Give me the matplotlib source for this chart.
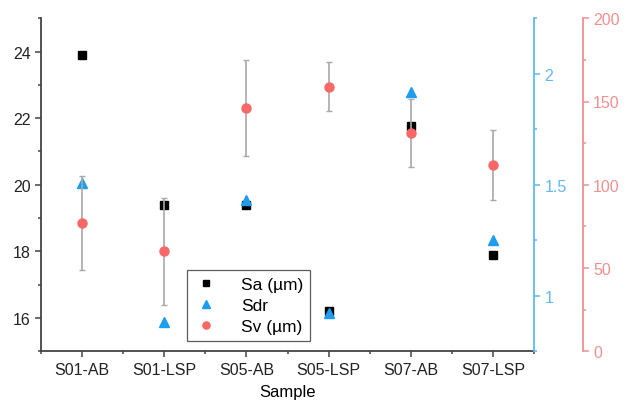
import matplotlib
matplotlib.use('Agg')
import matplotlib.pyplot as plt
from matplotlib.ticker import MultipleLocator

plt.rcParams['font.family'] = ['Liberation Sans', 'DejaVu Sans']
plt.rcParams['font.size'] = 11.5

samples = ['S01-AB', 'S01-LSP', 'S05-AB', 'S05-LSP', 'S07-AB', 'S07-LSP']
sa = [23.9, 19.4, 19.4, 16.2, 21.75, 17.9]
sdr = [1.51, 0.88, 1.43, 0.92, 1.92, 1.25]
sv = [77, 60, 146, 159, 131, 112]
sv_err = [28, 32, 29, 15, 20.5, 21]

blue = '#1e9cf0'
blue_axis = '#62b8f0'
red = '#f76868'
red_axis = '#f09090'
dark = '#444444'

x = range(len(samples))

fig = plt.figure(figsize=(6.29, 4.10), dpi=100)
ax = fig.add_axes([0.0652, 0.141, 0.7838, 0.812])

# Sa on the left axis
ax.plot(x, sa, 's', color='black', markersize=5.5, label='Sa (\u00b5m)', zorder=3)
ax.set_xlim(-0.5, 5.5)
ax.set_ylim(15, 25)
ax.set_xticks(list(x))
ax.set_xticklabels(samples)
ax.set_xticks([i + 0.5 for i in range(-1, 6)], minor=True)
ax.yaxis.set_major_locator(MultipleLocator(2))
ax.yaxis.set_minor_locator(MultipleLocator(1))
ax.set_xlabel('Sample', fontsize=12, labelpad=5)
ax.spines['top'].set_visible(False)
ax.spines['right'].set_visible(False)
for s in ['left', 'bottom']:
    ax.spines[s].set_color(dark)
    ax.spines[s].set_linewidth(1.3)
ax.tick_params(which='both', direction='out', color=dark, width=1.1, labelcolor='#222222')
ax.tick_params(which='major', length=4.5, pad=3)
ax.tick_params(which='minor', length=2.5)

# Sdr on the first right axis
ax2 = ax.twinx()
ax2.plot(x, sdr, '^', color=blue, markersize=6.5, label='Sdr', zorder=3)
ax2.set_ylim(0.75, 2.25)
ax2.yaxis.set_minor_locator(MultipleLocator(0.25))
ax2.set_yticks([1, 1.5, 2])
ax2.set_yticklabels(['1', '1.5', '2'])
for s in ['top', 'left', 'bottom']:
    ax2.spines[s].set_visible(False)
ax2.spines['right'].set_color(blue_axis)
ax2.spines['right'].set_linewidth(1.3)
ax2.tick_params(which='both', direction='out', color=blue_axis, width=1.1, labelcolor=blue_axis)
ax2.tick_params(which='major', length=4.5, pad=3)
ax2.tick_params(which='minor', length=2.5)

# Sv with error bars on the offset right axis
ax3 = ax.twinx()
ax3.spines['right'].set_position(('outward', 35))
ax3.errorbar(x, sv, yerr=sv_err, fmt='none', ecolor='#a8a8a8', elinewidth=1.2,
             capsize=2, capthick=1.0, zorder=2)
ax3.plot(x, sv, 'o', color=red, markersize=6.5, label='Sv (\u00b5m)', zorder=3)
ax3.set_ylim(0, 200)
ax3.yaxis.set_major_locator(MultipleLocator(50))
ax3.yaxis.set_minor_locator(MultipleLocator(25))
for s in ['top', 'left', 'bottom']:
    ax3.spines[s].set_visible(False)
ax3.spines['right'].set_color(red_axis)
ax3.spines['right'].set_linewidth(1.3)
ax3.tick_params(which='both', direction='out', color=red_axis, width=1.1, labelcolor=red_axis)
ax3.tick_params(which='major', length=4.5, pad=3)
ax3.tick_params(which='minor', length=2.5)

handles = []
labels = []
for a in (ax, ax2, ax3):
    h, l = a.get_legend_handles_labels()
    handles += h
    labels += l
leg = ax3.legend(handles, labels, loc='lower left', bbox_to_anchor=(0.297, 0.03),
                 fontsize=12.5, frameon=True, fancybox=False, edgecolor='#333333',
                 markerscale=0.8, handlelength=1.3, handletextpad=1.4, borderpad=0.4,
                 labelspacing=0.35, borderaxespad=0)
leg.get_frame().set_linewidth(0.9)

fig.savefig('out.png', dpi=100)
